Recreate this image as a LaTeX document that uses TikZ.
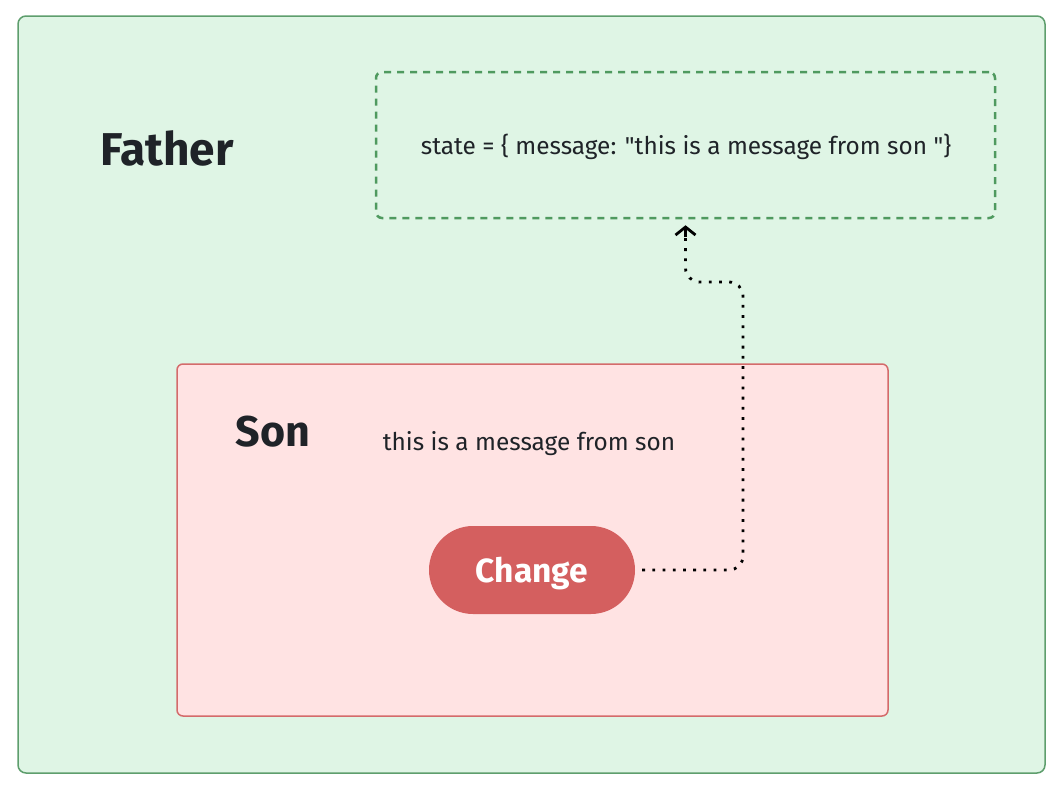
\documentclass[tikz,border=0pt]{standalone}
\usepackage{fontspec}
\setmainfont{Fira Sans}
\usetikzlibrary{arrows.meta, positioning, calc}

\definecolor{fathergreen}{HTML}{DFF5E5}
\definecolor{fatherline}{HTML}{5E9E6D}
\definecolor{statedash}{HTML}{4F9A5F}
\definecolor{sonpink}{HTML}{FFE3E3}
\definecolor{sonline}{HTML}{D46B6B}
\definecolor{btnred}{HTML}{D45F5F}
\definecolor{inkdark}{HTML}{1F2328}

\begin{document}
\begin{tikzpicture}[
    x=1pt, y=-1pt,
    every node/.style={text=inkdark},
    father_box/.style={draw=fatherline, line width=1.5pt, fill=fathergreen, rounded corners=8pt, minimum width=1027pt, minimum height=757pt},
    state_box/.style={draw=statedash, line width=2.5pt, dash pattern=on 7pt off 6pt, rounded corners=6pt, minimum width=619pt, minimum height=146pt},
    son_box/.style={draw=sonline, line width=1.5pt, fill=sonpink, rounded corners=6pt, minimum width=711pt, minimum height=352pt},
    father_text/.style={font=\bfseries\fontsize{46}{52}\selectfont},
    son_text/.style={font=\bfseries\fontsize{43}{50}\selectfont},
    body_text/.style={font=\fontsize{24.4}{29}\selectfont},
    btn_node/.style={fill=btnred, rounded corners=44pt, minimum width=206pt, minimum height=88pt, text depth=0pt, text=white, font=\bfseries\fontsize{33.5}{38}\selectfont},
    flow/.style={line width=2.8pt, dash pattern=on 2.8pt off 7.4pt, rounded corners=14pt}
    ]
    \useasboundingbox (0,0) rectangle (1061,787);
    % Boxes
    \node[father_box] (father) at (531.5,394.5) {};
    \node[state_box] (state) at (685.5,145) {};
    \node[son_box] (son) at (532.5,540) {};
    % Labels
    \node[father_text] (fatherlabel) at (167,148) {Father};
    \node[son_text] (sonlabel) at (273,432) {Son};
    \node[body_text] (statetext) at (686,147) {state = \{ message: \textquotedbl this is a message from son \textquotedbl\}};
    \node[body_text] (msg) at (529,444) {this is a message from son};
    \node[btn_node] (change) at (532,570) {Change};
    % Dotted arrow from the button up to the state
    \coordinate (bend) at (743,282);
    \draw[flow, shorten <=7pt] (change.east) -| (bend) -| ($(state.south)+(0,14)$);
    \draw[line width=2.8pt, -{Straight Barb[length=8pt,width=20pt]}] ($(state.south)+(0,18)$) -- ($(state.south)+(0,6)$);
\end{tikzpicture}
\end{document}
